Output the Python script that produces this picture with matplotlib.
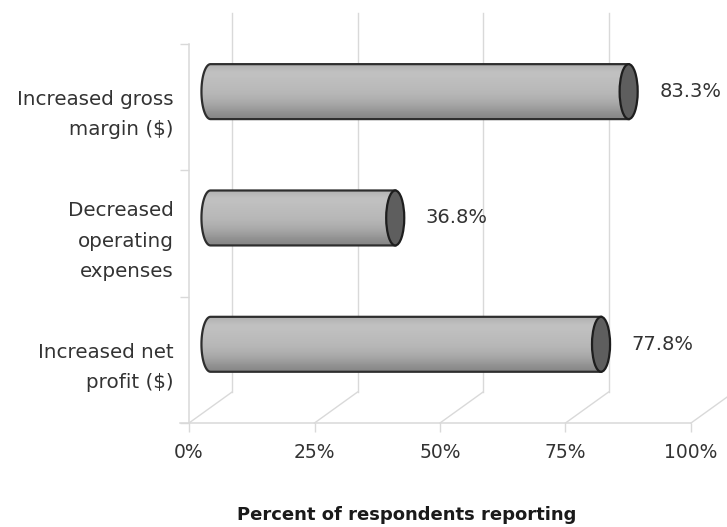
import numpy as np
import matplotlib
matplotlib.use("Agg")
import matplotlib.pyplot as plt
from matplotlib.path import Path
from matplotlib.patches import PathPatch, Ellipse

plt.rcParams['font.family'] = ['DejaVu Sans']

# ---- data ----
categories = ["Increased net\nprofit ($)", "Decreased\noperating\nexpenses", "Increased gross\nmargin ($)"]
values = [77.8, 36.8, 83.3]
xticks = [0, 25, 50, 75, 100]
xticklabels = ["0%", "25%", "50%", "75%", "100%"]
xlabel = "Percent of respondents reporting"

# ---- 3D-look geometry (in data units) ----
DX_FULL, DY_FULL = 8.57, 0.245     # depth of the floor / back wall
DX_BAR, DY_BAR = 4.28, 0.123       # bars sit at half depth
BAR_H = 0.435
CAP_W = 3.6
GRID = "#d9d9d9"
TXT = "#333333"

W, H = 727, 527
fig = plt.figure(figsize=(W / 100, H / 100), dpi=100)
ax = fig.add_axes([189 / W, (H - 423) / H, 502 / W, 379 / H])
ax.set_xlim(0, 100)
ax.set_ylim(0, 3)
for s in ax.spines.values():
    s.set_visible(False)

# walls / floor
ax.plot([-1.8, 100], [0, 0], color=GRID, lw=1.1, clip_on=False, zorder=1)
ax.plot([0, 0], [0, 3], color=GRID, lw=1.1, clip_on=False, zorder=1)
for t in xticks:
    ax.plot([t, t + DX_FULL], [0, DY_FULL], color=GRID, lw=1.0, clip_on=False, zorder=1)
    ax.plot([t + DX_FULL, t + DX_FULL], [DY_FULL, 3 + DY_FULL], color=GRID, lw=1.0,
            clip_on=False, zorder=1)

# ticks
ax.set_xticks(xticks, xticklabels)
ax.set_yticks([0, 1, 2, 3], [""] * 4)
ax.set_yticks([0.5, 1.5, 2.5], categories, minor=True)
ax.tick_params(axis='x', length=6.5, width=1, color=GRID, pad=8, labelsize=13.5, labelcolor=TXT)
ax.tick_params(axis='y', which='major', length=6.5, width=1, color=GRID)
ax.tick_params(axis='y', which='minor', length=0, pad=11, labelsize=14.3, labelcolor=TXT)
for lab in ax.get_yticklabels(minor=True):
    lab.set_linespacing(1.75)
    lab.set_horizontalalignment('right')

ax.set_xlabel(xlabel, fontsize=13, fontweight='bold', color='#1a1a1a', va='center')
ax.xaxis.set_label_coords((407 - 189) / 502, (423 - 515) / 379)

# gradient image for cylinder shading
grad = np.array([0.53, 0.58, 0.63, 0.67, 0.70, 0.72, 0.73, 0.74, 0.75, 0.76, 0.70]).reshape(-1, 1)

for i, v in enumerate(values):
    cy = i + 0.5 + DY_BAR
    xs = DX_BAR
    xe = v + DX_BAR
    top, bot = cy + BAR_H / 2, cy - BAR_H / 2
    th = np.linspace(np.pi / 2, 3 * np.pi / 2, 40)
    ex = xs + CAP_W / 2 * np.cos(th)
    ey = cy + BAR_H / 2 * np.sin(th)
    verts = list(zip(ex, ey)) + [(xe, bot), (xe, top), (xs, top)]
    codes = [Path.MOVETO] + [Path.LINETO] * (len(verts) - 2) + [Path.CLOSEPOLY]
    body = PathPatch(Path(verts, codes), facecolor='none', edgecolor='#2e2e2e',
                     lw=1.6, zorder=4, clip_on=False)
    ax.add_patch(body)
    im = ax.imshow(grad, cmap='gray', vmin=0, vmax=1, aspect='auto',
                   extent=[xs - CAP_W, xe, bot, top], origin='lower',
                   interpolation='bicubic', zorder=3)
    im.set_clip_path(body)
    cap = Ellipse((xe, cy), CAP_W, BAR_H, facecolor='#5e5e5e', edgecolor='#1e1e1e',
                  lw=1.6, zorder=5, clip_on=False)
    ax.add_patch(cap)
    ax.text(xe + 6.1, cy, f"{v}%", va='center', ha='left', fontsize=14, color=TXT)

ax.set_xlim(0, 100)
ax.set_ylim(0, 3)
fig.savefig("out.png", dpi=100, facecolor='white')
